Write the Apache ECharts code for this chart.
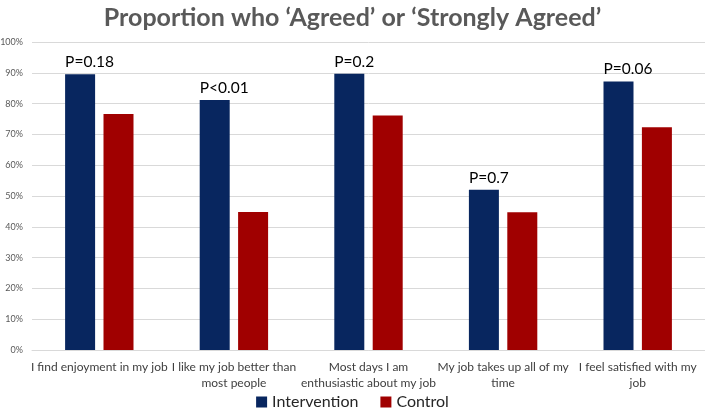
<!DOCTYPE html>
<html><head><meta charset="utf-8">
<script src="https://cdn.jsdelivr.net/npm/echarts@6/dist/echarts.min.js"></script>
<style>html,body{margin:0;padding:0;background:#fff}#c{width:705px;height:415px}</style>
</head><body><div id="c"></div>
<script>
const categories = ['I find enjoyment in my job','I like my job better than\nmost people','Most days I am\nenthusiastic about my job','My job takes up all of my\ntime','I feel satisfied with my\njob'];
const intervention = [0.895, 0.812, 0.897, 0.52, 0.872];
const control = [0.766, 0.448, 0.761, 0.447, 0.723];
const pValues = ['P=0.18','P<0.01','P=0.2','P=0.7','P=0.06'];

const FONT = 'Lato';
const chart = echarts.init(document.getElementById('c'));
chart.setOption({
  animation: false,
  textStyle: {fontFamily: FONT},
  title: {
    text: 'Proportion who \u2018Agreed\u2019 or \u2018Strongly Agreed\u2019',
    left: 'center', top: 0,
    textStyle: {fontFamily: FONT, fontSize: 25, fontWeight: 'bold', color: '#595959'}
  },
  legend: {
    bottom: 0, left: 'center',
    itemWidth: 11, itemHeight: 11, itemGap: 22,
    icon: 'rect',
    textStyle: {fontFamily: FONT, fontSize: 16, color: '#262626'},
    data: ['Intervention','Control']
  },
  grid: {left: 32, right: 0, top: 42, bottom: 65, containLabel: false, outerBoundsMode: 'none'},
  xAxis: {
    type: 'category', data: categories,
    axisLine: {lineStyle: {color: '#d9d9d9'}},
    axisTick: {show: false},
    axisLabel: {color: '#404040', fontSize: 12, interval: 0, margin: 9, lineHeight: 16}
  },
  yAxis: {
    type: 'value', min: 0, max: 1, interval: 0.1,
    axisLabel: {color: '#595959', fontSize: 9, margin: 9, formatter: v => Math.round(v*100) + '%'},
    splitLine: {lineStyle: {color: '#d9d9d9'}},
    axisLine: {show: false}, axisTick: {show: false}
  },
  series: [
    {name: 'Intervention', type: 'bar', data: intervention, barWidth: 30, barGap: '28%',
     itemStyle: {color: '#08265f'},
     label: {show: true, position: [0, -4], align: 'left', verticalAlign: 'bottom',
       fontFamily: FONT, fontSize: 15.5, color: '#000',
       formatter: p => pValues[p.dataIndex]}},
    {name: 'Control', type: 'bar', data: control, barWidth: 30,
     itemStyle: {color: '#a00000'}}
  ]
});
</script></body></html>
